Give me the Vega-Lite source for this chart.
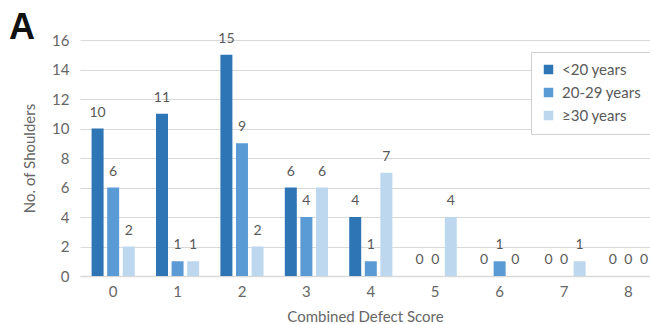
{
  "$schema": "https://vega.github.io/schema/vega-lite/v6.json",
  "width": 570,
  "height": 236,
  "autosize": {"type": "none"},
  "padding": {"left": 80, "top": 40, "right": 0, "bottom": 48},
  "background": "white",
  "title": {
    "text": "A",
    "anchor": "start",
    "frame": "group",
    "fontSize": 36,
    "fontWeight": "bold",
    "font": "Liberation Sans",
    "color": "#111111",
    "baseline": "alphabetic",
    "offset": 0,
    "dx": -71,
    "dy": 43
  },
  "config": {
    "view": {"stroke": null},
    "font": "Lato",
    "axis": {"labelColor": "#666666", "titleColor": "#666666", "labelFont": "Lato", "titleFont": "Lato", "titleFontWeight": "normal"},
    "legend": {"labelFont": "Lato"}
  },
  "data": {
    "values": [
      {"score": "0", "age": "<20 years", "n": 10},
      {"score": "0", "age": "20-29 years", "n": 6},
      {"score": "0", "age": "≥30 years", "n": 2},
      {"score": "1", "age": "<20 years", "n": 11},
      {"score": "1", "age": "20-29 years", "n": 1},
      {"score": "1", "age": "≥30 years", "n": 1},
      {"score": "2", "age": "<20 years", "n": 15},
      {"score": "2", "age": "20-29 years", "n": 9},
      {"score": "2", "age": "≥30 years", "n": 2},
      {"score": "3", "age": "<20 years", "n": 6},
      {"score": "3", "age": "20-29 years", "n": 4},
      {"score": "3", "age": "≥30 years", "n": 6},
      {"score": "4", "age": "<20 years", "n": 4},
      {"score": "4", "age": "20-29 years", "n": 1},
      {"score": "4", "age": "≥30 years", "n": 7},
      {"score": "5", "age": "<20 years", "n": 0},
      {"score": "5", "age": "20-29 years", "n": 0},
      {"score": "5", "age": "≥30 years", "n": 4},
      {"score": "6", "age": "<20 years", "n": 0},
      {"score": "6", "age": "20-29 years", "n": 1},
      {"score": "6", "age": "≥30 years", "n": 0},
      {"score": "7", "age": "<20 years", "n": 0},
      {"score": "7", "age": "20-29 years", "n": 0},
      {"score": "7", "age": "≥30 years", "n": 1},
      {"score": "8", "age": "<20 years", "n": 0},
      {"score": "8", "age": "20-29 years", "n": 0},
      {"score": "8", "age": "≥30 years", "n": 0}
    ]
  },
  "encoding": {
    "x": {
      "field": "score",
      "type": "nominal",
      "sort": null,
      "scale": {"paddingInner": 0.33, "paddingOuter": 0.09, "align": 1},
      "axis": {
        "title": "Combined Defect Score",
        "labelAngle": 0,
        "labelFontSize": 15,
        "labelPadding": 8,
        "titleFontSize": 15,
        "titlePadding": 10,
        "ticks": false,
        "domainColor": "#d9d9d9",
        "domainWidth": 1.5,
        "grid": false
      }
    },
    "xOffset": {
      "field": "age",
      "type": "nominal",
      "sort": ["<20 years", "20-29 years", "≥30 years"],
      "scale": {"paddingInner": 0.23, "paddingOuter": 0}
    },
    "y": {
      "field": "n",
      "type": "quantitative",
      "scale": {"domain": [0, 16], "nice": false},
      "axis": {
        "title": "No. of Shoulders",
        "values": [0, 2, 4, 6, 8, 10, 12, 14, 16],
        "labelFontSize": 15,
        "labelPadding": 11,
        "titleFontSize": 15,
        "titlePadding": 14,
        "ticks": false,
        "domain": false,
        "gridColor": "#d9d9d9",
        "gridWidth": 1
      }
    },
    "color": {
      "field": "age",
      "type": "nominal",
      "sort": ["<20 years", "20-29 years", "≥30 years"],
      "scale": {"range": ["#2e75b6", "#5b9bd5", "#bdd7ee"]},
      "legend": {
        "title": null,
        "orient": "none",
        "legendX": 451,
        "legendY": 12,
        "padding": 10,
        "strokeColor": "#d0d0d0",
        "fillColor": "white",
        "symbolType": "square",
        "symbolSize": 90,
        "symbolStrokeWidth": 0,
        "labelFontSize": 15,
        "labelColor": "#595959",
        "rowPadding": 7,
        "labelOffset": 6
      }
    }
  },
  "layer": [
    {"mark": {"type": "bar"}},
    {
      "mark": {"type": "text", "baseline": "alphabetic", "dy": -12, "fontSize": 14, "color": "#595959", "font": "Lato"},
      "encoding": {"text": {"field": "n", "type": "quantitative"}, "color": {"value": "#595959"}}
    }
  ]
}
